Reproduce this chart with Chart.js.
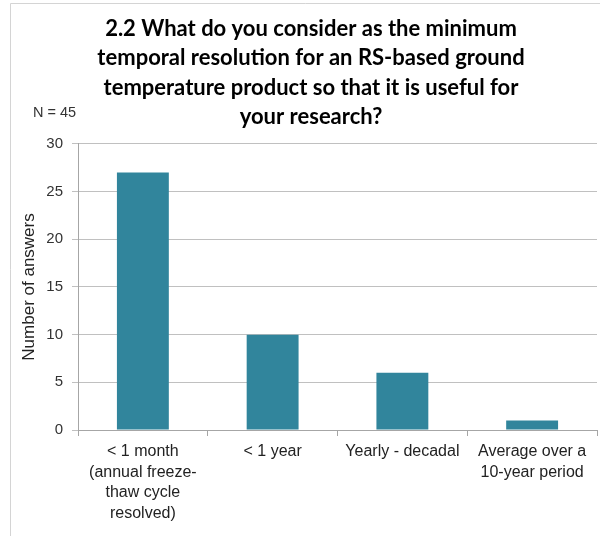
<!DOCTYPE html>
<html>
<head>
<meta charset="utf-8">
<script src="https://cdn.jsdelivr.net/npm/chart.js@4.4.1/dist/chart.umd.min.js"></script>
<style>
  html, body { margin: 0; padding: 0; background: #fff; }
  #wrap { position: relative; width: 600px; height: 536px; }
</style>
</head>
<body>
<div id="wrap"><canvas id="c" width="600" height="536"></canvas></div>
<script>
const categories = [
  ["< 1 month", "(annual freeze-", "thaw cycle", "resolved)"],
  ["< 1 year"],
  ["Yearly - decadal"],
  ["Average over a", "10-year period"]
];
const answers = [27, 10, 6, 1];
const titleLines = [
  "2.2 What do you consider as the minimum",
  "temporal resolution for an RS-based ground",
  "temperature product so that it is useful for",
  "your research?"
];
const yTicks = [0, 5, 10, 15, 20, 25, 30];
const noteText = "N = 45";

const framePlugin = {
  id: 'frame',
  beforeDraw(chart) {
    const ctx = chart.ctx;
    ctx.save();
    ctx.fillStyle = '#fff';
    ctx.fillRect(0, 0, chart.width, chart.height);
    ctx.strokeStyle = '#d4d4d4';
    ctx.lineWidth = 1;
    ctx.beginPath();
    ctx.moveTo(10.5, chart.height);
    ctx.lineTo(10.5, 3.5);
    ctx.lineTo(chart.width, 3.5);
    ctx.stroke();
    ctx.restore();
  },
  afterDraw(chart) {
    const ctx = chart.ctx;
    ctx.save();
    ctx.font = '14.5px "Liberation Sans", Arial, sans-serif';
    ctx.fillStyle = '#333';
    ctx.textAlign = 'left';
    ctx.textBaseline = 'middle';
    ctx.fillText(noteText, 33, 113);
    ctx.restore();
  }
};

new Chart(document.getElementById('c'), {
  type: 'bar',
  data: {
    labels: categories,
    datasets: [{
      data: answers,
      backgroundColor: '#31859C',
      borderWidth: 0,
      barPercentage: 0.4,
      categoryPercentage: 1.0
    }]
  },
  options: {
    responsive: false,
    animation: false,
    layout: { padding: { left: 25, right: 3, top: 0, bottom: 0 } },
    plugins: {
      legend: { display: false },
      tooltip: { enabled: false },
      title: {
        display: true,
        text: titleLines,
        color: '#000',
        font: { family: 'Lato, "Open Sans", sans-serif', size: 22, weight: 'bold', lineHeight: 1.34 },
        padding: { top: 14, bottom: 12 }
      }
    },
    scales: {
      x: {
        grid: { display: true, drawOnChartArea: false, drawTicks: true, tickLength: 6, color: '#a6a6a6' },
        border: { display: true, color: '#a6a6a6' },
        ticks: {
          autoSkip: false, maxRotation: 0, minRotation: 0,
          color: '#222', padding: 5,
          font: { family: '"Liberation Sans", Arial, sans-serif', size: 16, lineHeight: 1.3 }
        },
        afterFit(s) { s.height = 106; }
      },
      y: {
        min: 0, max: 30,
        afterBuildTicks(s) { s.ticks = yTicks.map(v => ({ value: v })); },
        grid: { color: '#c0c0c0', tickLength: 6, drawTicks: true },
        border: { display: true, color: '#a6a6a6' },
        ticks: {
          color: '#333', padding: 9,
          font: { family: '"Liberation Sans", Arial, sans-serif', size: 15 }
        },
        title: {
          display: true,
          text: 'Number of answers',
          color: '#222',
          font: { family: '"Liberation Sans", Arial, sans-serif', size: 17 },
          padding: { top: -6, bottom: 0 }
        },
        afterFit(s) { s.width = 53; }
      }
    }
  },
  plugins: [framePlugin]
});
</script>
</body>
</html>
